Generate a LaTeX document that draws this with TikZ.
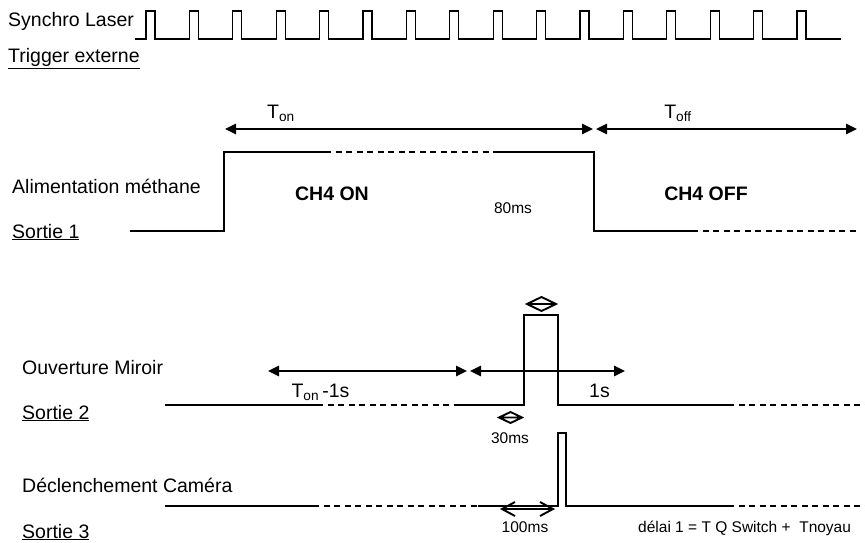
\documentclass[tikz,border=0pt]{standalone}
\usepackage{fontspec}
\setmainfont{Liberation Sans}
\usepackage{tikz}
\usetikzlibrary{arrows.meta}

\tikzset{
  sig/.style={line width=1.3pt},
  gap/.style={sig, dash pattern=on 6pt off 4.5pt},
  span/.style={line width=1.6pt, {Triangle[length=11pt,width=10.5pt]}-{Triangle[length=11pt,width=10.5pt]}},
  lbl/.style={inner sep=0pt, anchor=base west, font=\fontsize{19.5}{23}\selectfont},
  tag/.style={lbl, anchor=base},
  val/.style={inner sep=0pt, anchor=base, font=\fontsize{15.5}{18}\selectfont},
}

\begin{document}
\begin{tikzpicture}[x=1pt, y=-1pt]
  \useasboundingbox (0,0) rectangle (865,543);

  % signal names
  \node[lbl] (synchro) at (8,26.5) {Synchro Laser};
  \node[lbl] (trigger) at (8,62.5) {\underline{Trigger externe}};
  \node[lbl] (alim) at (12,193) {Alimentation méthane};
  \node[lbl] (sortie1) at (12,238) {\underline{Sortie 1}};
  \node[lbl] (miroir) at (22,374) {Ouverture Miroir};
  \node[lbl] (sortie2) at (22,419) {\underline{Sortie 2}};
  \node[lbl] (camera) at (22,492) {Déclenchement Caméra};
  \node[lbl] (sortie3) at (22,538) {\underline{Sortie 3}};

  % laser pulses
  \draw[sig] (135,39) \foreach \i in {0,...,15}{
      -- ({146+43.4*\i},39) -- ++(0,-28) -- ++(9,0) -- ++(0,28)} -- (841,39);

  % sortie 1
  \draw[sig] (130,231) -- (224,231) -- (224,152) -- (325,152);
  \draw[gap] (325,152) -- (493,152);
  \draw[sig] (493,152) -- (594,152) -- (594,231) -- (692,231);
  \draw[gap] (692,231) -- (860,231);
  \coordinate (ton-l) at (225,129);
  \coordinate (ton-r) at (593,129);
  \coordinate (toff-l) at (596,129);
  \coordinate (toff-r) at (857,129);
  \draw[span] (ton-l) -- (ton-r);
  \draw[span] (toff-l) -- (toff-r);
  \node[tag] (ton) at (281,118) {T\textsubscript{on}};
  \node[tag] (toff) at (678,118) {T\textsubscript{off}};
  \node[tag, font=\fontsize{19.5}{23}\selectfont\bfseries] (ch4on) at (332,200.5) {CH4 ON};
  \node[tag, font=\fontsize{19.5}{23}\selectfont\bfseries] (ch4off) at (706,200.5) {CH4 OFF};
  \node[val] (t80) at (513,213) {80ms};

  % sortie 2
  \draw[sig] (165,405) -- (317,405);
  \draw[gap] (317,405) -- (460,405);
  \draw[sig] (460,405) -- (524,405) -- (524,315) -- (558,315) -- (558,405) -- (728,405);
  \draw[gap] (728,405) -- (865,405);
  \coordinate (wait-l) at (268,371);
  \coordinate (wait-r) at (467,371);
  \coordinate (open-l) at (470,371);
  \coordinate (open-r) at (625,371);
  \draw[span] (wait-l) -- (wait-r);
  \draw[span] (open-l) -- (open-r);
  \node[tag] (tonm) at (320.5,397) {T\textsubscript{on}\,-1s};
  \node[tag] (t1s) at (599.5,397) {1s};
  \draw[line width=1.9pt] (527,304) -- (541.5,297) -- (556,304) -- (541.5,311) -- cycle (527,304) -- (556,304);
  \draw[line width=1.9pt] (499,417.5) -- (510.5,412) -- (522,417.5) -- (510.5,423) -- cycle (499,417.5) -- (522,417.5);
  \node[val] (t30) at (510,443) {30ms};

  % sortie 3
  \draw[sig] (165,506) -- (313,506);
  \draw[gap] (313,506) -- (478,506);
  \draw[sig] (478,506) -- (558,506) -- (558,433) -- (566,433) -- (566,506) -- (728,506);
  \draw[gap] (728,506) -- (865,506);
  \coordinate (cam-l) at (500,509);
  \coordinate (cam-r) at (555,509);
  \draw[line width=1.9pt, {Straight Barb[length=13pt,width=14pt]}-{Straight Barb[length=13pt,width=14pt]}] (cam-l) -- (cam-r);
  \node[val] (t100) at (525,532) {100ms};
  \node[val, anchor=base west] (delai) at (638,532) {délai 1 = T Q Switch +~~Tnoyau};
\end{tikzpicture}
\end{document}
